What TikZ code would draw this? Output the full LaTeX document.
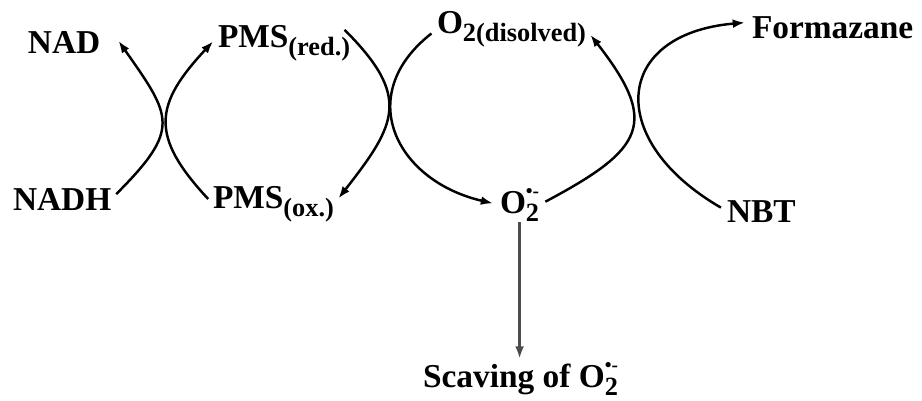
\documentclass[tikz,border=0pt]{standalone}
\usepackage{fontspec}
\setmainfont{Liberation Serif}
\usetikzlibrary{arrows.meta}

% lowered index and superoxide radical
\newcommand{\lowsub}[1]{\raisebox{-5pt}{\fontsize{15}{16}\selectfont #1}}
\newcommand{\supox}{O\rlap{\lowsub{2}}\raisebox{9pt}{\fontsize{11}{12}\selectfont\textbullet-}}

\begin{document}
\begin{tikzpicture}[>={Latex[length=7pt,width=5pt]}, x=0.02cm, y=0.02cm,
  chem/.style={font=\fontsize{19}{22}\selectfont\bfseries, inner sep=0pt,
               outer sep=0pt, anchor=base west},
  cyc/.style={line width=1.4pt, shorten <=4pt, shorten >=4pt}]
  \useasboundingbox (0,0) rectangle (922,400);

  % NADH / PMS couple
  \node[chem] (nad) at (28,347) {NAD};
  \node[chem] (nadh) at (13,190) {NADH};
  \node[chem] (pmsred) at (218,353) {PMS\lowsub{(red.)}};
  \node[chem] (pmsox) at (213,192) {PMS\lowsub{(ox.)}};

  % oxygen and superoxide
  \node[chem] (o2dis) at (437,367) {O\lowsub{2(disolved)}};
  \node[chem] (o2rad) at (500,187) {\supox};

  % NBT reduction
  \node[chem] (form) at (752,362) {Formazane};
  \node[chem] (nbt) at (727,178) {NBT};
  \node[chem] (scav) at (423,13) {Scaving of \supox};

  % first crossing
  \draw[cyc,->] (nadh.east) to[out=45,in=-55,looseness=1.55] ([shift={(8pt,4pt)}]nad.east);
  \draw[cyc,->] (pmsox.west) to[out=133,in=-133,looseness=1.42] ([yshift=4pt]pmsred.west);

  % second crossing
  \draw[cyc,->] ([xshift=-6pt]pmsred.north east) to[out=-45,in=52,looseness=1.45] (pmsox.east);
  \draw[cyc,->] (o2dis.west) to[out=218,in=167,looseness=1.46] (o2rad.west);

  % third crossing
  \draw[cyc,->] (o2rad.east) to[out=28,in=-52,looseness=1.68] (o2dis.east);
  \draw[cyc,->] (nbt.west) to[out=150,in=185,looseness=1.88] ([yshift=3pt]form.west);

  % scavenging
  \draw[->, line width=1.3pt, black!70, shorten >=2pt] (o2rad.south) -- (o2rad.south |- scav.north);
\end{tikzpicture}
\end{document}
